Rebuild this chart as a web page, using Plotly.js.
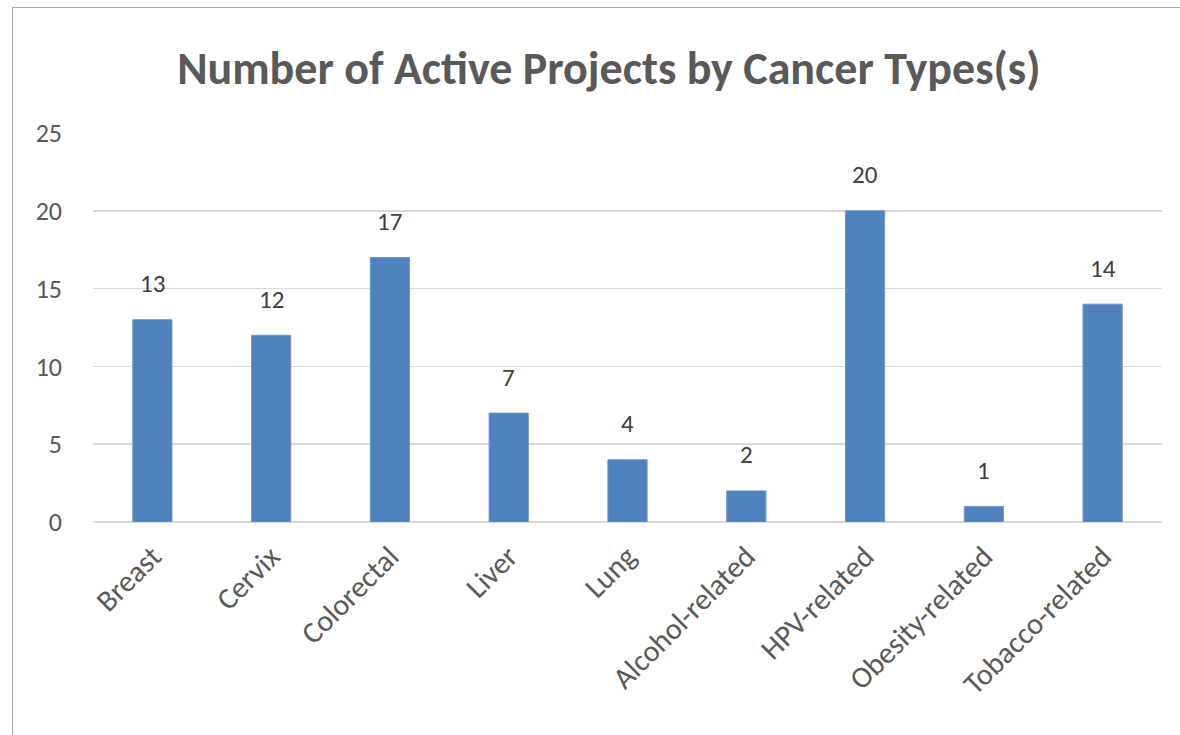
<!DOCTYPE html>
<html>
<head>
<meta charset="utf-8">
<script src="https://cdn.plot.ly/plotly-3.0.1.min.js"></script>
<style>
  html, body { margin: 0; padding: 0; background: #ffffff; overflow: hidden; width: 1180px; height: 735px; }
  #frame { position: absolute; left: 12px; top: 7px; width: 1168px; height: 728px; box-sizing: border-box;
           border-left: 1.5px solid #a6a6a6; border-top: 1.5px solid #a6a6a6; }
  #chart { position: absolute; left: 0; top: 0; width: 1180px; height: 735px; }
</style>
</head>
<body>
<div id="frame"></div>
<div id="chart"></div>
<script>
const categories = ["Breast", "Cervix", "Colorectal", "Liver", "Lung",
  "Alcohol-related", "HPV-related", "Obesity-related", "Tobacco-related"];
const projectCounts = [13, 12, 17, 7, 4, 2, 20, 1, 14];
const yTicks = [0, 5, 10, 15, 20, 25];
const chartTitle = "Number of Active Projects by Cancer Types(s)";

const FONT = "Carlito, Calibri, Lato, sans-serif";

const trace = {
  type: "bar",
  x: categories,
  y: projectCounts,
  marker: { color: "#4F81BD", line: { color: "#6f98c9", width: 1 } },
  hoverinfo: "x+y"
};

const annotations = categories.map((c, i) => ({
  x: c, y: projectCounts[i], xref: "x", yref: "y",
  text: String(projectCounts[i]), showarrow: false,
  yanchor: "middle", yshift: 36,
  font: { family: FONT, size: 25, color: "#404040" }
}));

const layout = {
  width: 1180, height: 735,
  paper_bgcolor: "rgba(0,0,0,0)", plot_bgcolor: "rgba(0,0,0,0)",
  margin: { l: 93, r: 18, t: 133, b: 213 },
  title: {
    text: chartTitle,
    font: { family: FONT, size: 46, color: "#595959", weight: "bold" },
    x: 0.516, xanchor: "center", y: 0.908, yanchor: "middle"
  },
  bargap: 0.67,
  showlegend: false,
  xaxis: {
    type: "category",
    tickangle: -45,
    tickfont: { family: FONT, size: 30, color: "#595959" },
    showgrid: false, zeroline: false,
    showline: false, ticks: "", ticklabelstandoff: 10, fixedrange: true
  },
  yaxis: {
    range: [0, 25], tickvals: yTicks, ticktext: yTicks.map(String),
    tickfont: { family: FONT, size: 26, color: "#595959" },
    gridcolor: "#d9d9d9", gridwidth: 1.5,
    zeroline: true, zerolinecolor: "#d9d9d9", zerolinewidth: 1.5,
    showline: false, ticks: "", ticklabelstandoff: 30, fixedrange: true
  },
  annotations: annotations
};

Plotly.newPlot("chart", [trace], layout, { displayModeBar: false, staticPlot: true });
</script>
</body>
</html>
